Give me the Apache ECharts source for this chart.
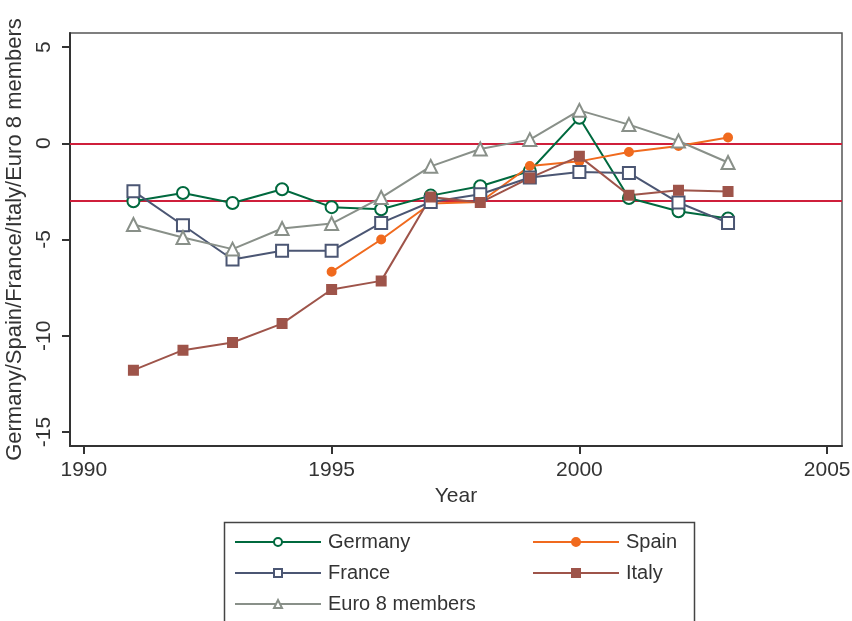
<!DOCTYPE html>
<html>
<head>
<meta charset="utf-8">
<script src="https://cdn.jsdelivr.net/npm/echarts@6/dist/echarts.min.js"></script>
<style>
  html, body { margin: 0; padding: 0; background: #fff; }
  #main { width: 852px; height: 621px; }
</style>
</head>
<body>
<div id="main"></div>
<script>
// years on the x axis
var years = [1991, 1992, 1993, 1994, 1995, 1996, 1997, 1998, 1999, 2000, 2001, 2002, 2003];

var germany = [-3.01, -2.58, -3.10, -2.39, -3.32, -3.43, -2.72, -2.23, -1.44, 1.33, -2.84, -3.53, -3.91];
var spain   = [null, null, null, null, -6.68, -5.0, -3.13, -3.05, -1.18, -0.94, -0.45, -0.14, 0.3];
var france  = [-2.49, -4.26, -6.04, -5.59, -5.59, -4.14, -3.05, -2.65, -1.78, -1.49, -1.54, -3.08, -4.14];
var italy   = [-11.79, -10.75, -10.35, -9.37, -7.6, -7.15, -2.79, -3.08, -1.8, -0.68, -2.7, -2.44, -2.51];
var euro8   = [-4.22, -4.9, -5.5, -4.43, -4.17, -2.82, -1.2, -0.3, 0.19, 1.71, 0.97, 0.12, -1.0];

var xTicks = [1990, 1995, 2000, 2005];
var yTicks = [-15, -10, -5, 0, 5];
var refLines = [0, -3];

function pairs(vals) {
  var out = [];
  for (var i = 0; i < years.length; i++) {
    if (vals[i] !== null) out.push([years[i], vals[i]]);
  }
  return out;
}

var font = 'Liberation Sans, Arial, sans-serif';
var axisCol = '#333';

function line(name, vals, color, symbol, size) {
  return {
    name: name,
    type: 'line',
    data: pairs(vals),
    symbol: symbol,
    symbolSize: size,
    showAllSymbol: true,
    color: color,
    lineStyle: { color: color, width: 2 },
    itemStyle: { color: color, borderColor: color, borderWidth: 2 },
    z: 3
  };
}

var legendText = { fontFamily: font, fontSize: 20, color: '#333', padding: [0, 0, 0, 2] };

var chart = echarts.init(document.getElementById('main'));
chart.setOption({
  backgroundColor: '#fff',
  animation: false,
  grid: {
    left: 70, right: 10, top: 33, bottom: 175,
    outerBoundsMode: 'none',
    containLabel: false,
    show: true, borderColor: '#555', borderWidth: 1.5
  },
  xAxis: {
    type: 'value',
    min: 1989.72, max: 2005.3,
    name: 'Year',
    nameLocation: 'middle',
    nameGap: 40,
    nameTextStyle: { fontFamily: font, fontSize: 21, color: '#333' },
    splitLine: { show: false },
    axisLine: { show: true, onZero: false, lineStyle: { color: axisCol, width: 2 } },
    axisTick: { show: true, length: 8, customValues: xTicks, lineStyle: { color: axisCol, width: 2 } },
    axisLabel: {
      customValues: xTicks, fontFamily: font, fontSize: 21, color: '#333', margin: 14,
      formatter: function (v) { return String(v); }
    }
  },
  yAxis: {
    type: 'value',
    min: -15.73, max: 5.73,
    name: 'Germany/Spain/France/Italy/Euro 8 members',
    nameLocation: 'middle',
    nameGap: 41,
    nameTextStyle: { fontFamily: font, fontSize: 22, color: '#333' },
    splitLine: { show: false },
    axisLine: { show: true, onZero: false, lineStyle: { color: axisCol, width: 2 } },
    axisTick: { show: true, length: 8, customValues: yTicks, lineStyle: { color: axisCol, width: 2 } },
    axisLabel: { customValues: yTicks, rotate: 90, fontFamily: font, fontSize: 21, color: '#333', margin: 15 }
  },
  legend: [
    {
      data: ['Germany', 'France', 'Euro 8 members'],
      orient: 'vertical',
      left: 229, top: 527,
      itemWidth: 86, itemHeight: 10, itemGap: 11,
      textStyle: legendText
    },
    {
      data: ['Spain', 'Italy'],
      orient: 'vertical',
      left: 527, top: 527,
      itemWidth: 86, itemHeight: 10, itemGap: 11,
      textStyle: legendText
    }
  ],
  graphic: [{
    type: 'rect',
    left: 222, top: 520,
    shape: { width: 470, height: 120 },
    style: { fill: 'none', stroke: '#444', lineWidth: 1.5 },
    silent: true
  }],
  series: [
    Object.assign(line('Germany', germany, '#00693e', 'emptyCircle', 12), {
      markLine: {
        silent: true,
        symbol: ['none', 'none'],
        label: { show: false },
        lineStyle: { color: '#cf1f3b', width: 2, type: 'solid' },
        data: refLines.map(function (v) { return { yAxis: v }; }),
        z: 2
      }
    }),
    line('Spain', spain, '#f06a1e', 'circle', 8),
    line('France', france, '#4b5673', 'emptyRect', 12),
    line('Italy', italy, '#9e544a', 'rect', 9),
    line('Euro 8 members', euro8, '#899089', 'emptyTriangle', 13)
  ]
});
</script>
</body>
</html>
